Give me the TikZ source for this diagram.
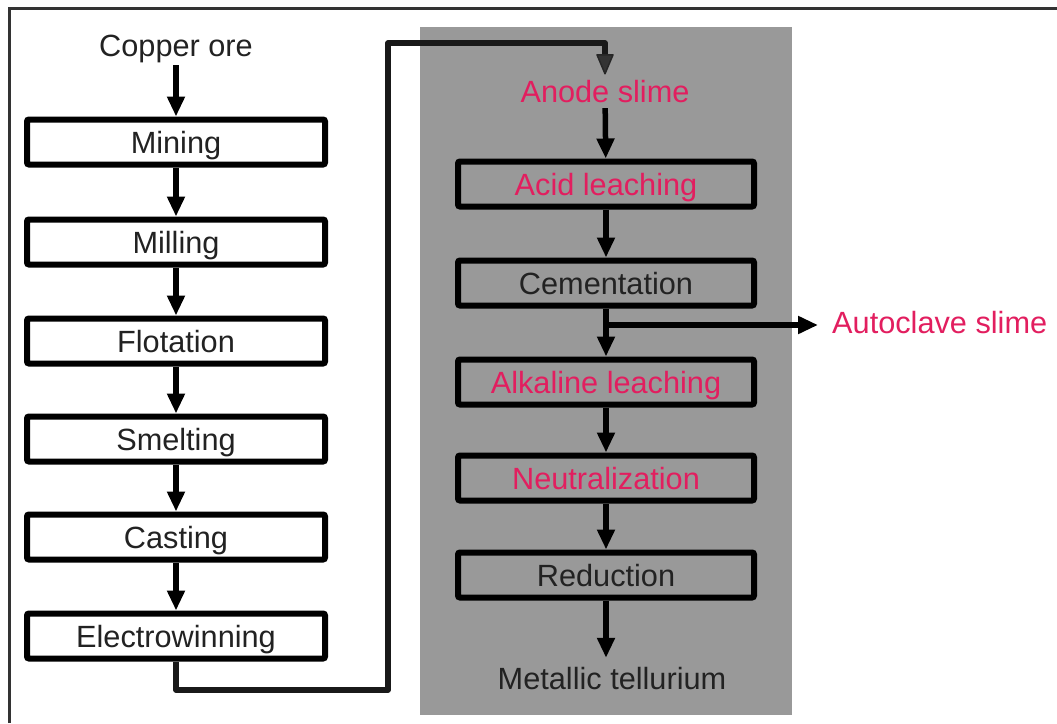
\documentclass[tikz,border=0pt]{standalone}
\usepackage{fontspec}
\setmainfont{Liberation Sans}
\usetikzlibrary{arrows.meta}
\definecolor{pinkred}{RGB}{226,30,95}
\definecolor{txtdark}{RGB}{34,34,34}
\definecolor{panel}{RGB}{153,153,153}
\begin{document}
\begin{tikzpicture}[x=1pt,y=-1pt,
  every node/.style={font=\fontsize{30.7}{36}\selectfont, text=txtdark},
  txt/.style={inner xsep=2pt, inner ysep=7pt, text height=22pt, text depth=0pt},
  pbox/.style={draw=black, line width=6pt, rounded corners=2pt, minimum width=298pt, minimum height=45pt, inner sep=0pt, text height=22pt, text depth=0pt},
  lbox/.style={pbox, fill=white},
  rbox/.style={pbox, minimum width=296pt},
  arr/.style={line width=5.5pt, draw=black, -{Triangle[width=17pt,length=20pt]}},
  conn/.style={line width=5.5pt, draw=black!90, line join=round}
]
\useasboundingbox (0,0) rectangle (1057,723);
% outer frame
\draw[line width=3pt, draw=black!80] (9,723) -- (9,8) -- (1057,8);
% grey panel
\fill[panel] (420,27) rectangle (792,715);

% left column
\node[txt, inner ysep=9pt] (ore) at (176,45) {Copper ore};
\node[lbox] (mining) at (176,142) {Mining};
\node[lbox] (milling) at (176,242) {Milling};
\node[lbox] (flot) at (176,341) {Flotation};
\node[lbox] (smelt) at (176,439) {Smelting};
\node[lbox] (cast) at (176,537) {Casting};
\node[lbox] (elec) at (176,636) {Electrowinning};

\draw[arr] (ore) -- (mining);
\draw[arr] (mining) -- (milling);
\draw[arr] (milling) -- (flot);
\draw[arr] (flot) -- (smelt);
\draw[arr] (smelt) -- (cast);
\draw[arr] (cast) -- (elec);

% right column
\node[txt, text=pinkred, inner ysep=6pt] (anode) at (605,91) {Anode slime};
\node[rbox, text=pinkred] (acid) at (606,184) {Acid leaching};
\node[rbox] (cement) at (606,283) {Cementation};
\node[rbox, text=pinkred] (alk) at (606,382) {Alkaline leaching};
\node[rbox, text=pinkred] (neut) at (606,478) {Neutralization};
\node[rbox] (red) at (606,575) {Reduction};
\node[txt, inner ysep=9pt] (metal) at (612,678) {Metallic tellurium};

\draw[arr] (anode) -- (acid);
\draw[arr] (acid) -- (cement);
\draw[arr] (cement) -- (alk);
\draw[arr] (alk) -- (neut);
\draw[arr] (neut) -- (red);
\draw[arr] (red.south) -- (red.south |- metal.north);

% autoclave branch
\coordinate (branch) at (606,325);
\node[txt, text=pinkred, anchor=west, inner xsep=14pt] (auto) at (818,322) {Autoclave slime};
\draw[arr] (branch) -- (branch -| auto.west);

% connector from electrowinning to anode slime
\coordinate (c1) at (388,690);
\coordinate (c2) at (388,43);
\draw[conn] (elec.south) |- (c1) -- (c2) -| ([yshift=16pt]anode.north);
\draw[line width=1.5pt, draw=black!85, fill=black!80, line join=round] ([xshift=-8pt,yshift=19pt]anode.north) -- ([xshift=8pt,yshift=19pt]anode.north) -- (anode.north) -- cycle;
\end{tikzpicture}
\end{document}
